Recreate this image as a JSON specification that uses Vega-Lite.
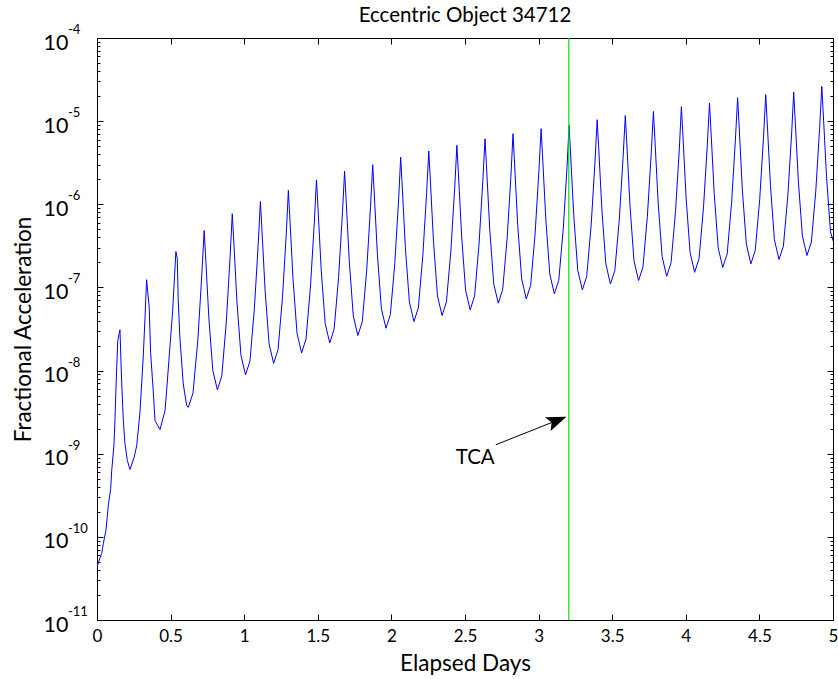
{
  "$schema": "https://vega.github.io/schema/vega-lite/v6.json",
  "width": 736,
  "height": 582,
  "autosize": {"type": "none"},
  "padding": {"left": 97, "top": 38, "right": 5, "bottom": 59},
  "background": "white",
  "config": {
    "view": {"stroke": "black", "strokeWidth": 1},
    "font": "Lato",
    "axis": {"domain": false, "grid": false, "labelColor": "black", "titleColor": "black", "labelFont": "Lato", "titleFont": "Lato", "titleFontWeight": "normal"}
  },
  "title": {"text": "Eccentric Object 34712", "fontSize": 20.5, "fontWeight": "normal", "font": "Lato", "color": "black", "offset": -2},
  "datasets": {
    "curve": [
      {"d":0.000,"a":4.27e-11},{"d":0.009,"a":4.90e-11},{"d":0.032,"a":6.31e-11},{"d":0.043,"a":8.32e-11},{"d":0.061,"a":1.20e-10},{"d":0.077,"a":2.40e-10},{"d":0.093,"a":3.80e-10},{"d":0.100,"a":6.31e-10},{"d":0.115,"a":1.26e-9},{"d":0.122,"a":2.51e-9},{"d":0.129,"a":6.31e-9},{"d":0.141,"a":2.29e-8},{"d":0.156,"a":3.09e-8},{"d":0.168,"a":6.92e-9},{"d":0.179,"a":2.51e-9},{"d":0.190,"a":1.32e-9},{"d":0.206,"a":8.32e-10},{"d":0.224,"a":6.46e-10},{"d":0.253,"a":9.12e-10},{"d":0.270,"a":1.26e-9},{"d":0.292,"a":3.16e-9},{"d":0.314,"a":1.45e-8},{"d":0.326,"a":4.27e-8},{"d":0.337,"a":1.24e-7},{"d":0.355,"a":5.62e-8},{"d":0.364,"a":1.66e-8},{"d":0.382,"a":5.75e-9},{"d":0.394,"a":2.51e-9},{"d":0.428,"a":1.95e-9},{"d":0.462,"a":3.31e-9},{"d":0.473,"a":5.75e-9},{"d":0.496,"a":2.00e-8},{"d":0.514,"a":5.25e-8},{"d":0.536,"a":2.70e-7},{"d":0.545,"a":2.24e-7},{"d":0.552,"a":6.92e-8},{"d":0.563,"a":2.51e-8},{"d":0.586,"a":6.92e-9},{"d":0.609,"a":3.80e-9},{"d":0.620,"a":3.61e-9},
      {"d":0.652,"a":5.35e-9},{"d":0.685,"a":2.32e-8},{"d":0.712,"a":1.42e-7},{"d":0.728,"a":4.84e-7},{"d":0.737,"a":2.49e-7},{"d":0.760,"a":4.28e-8},{"d":0.787,"a":9.95e-9},{"d":0.818,"a":5.86e-9},
      {"d":0.848,"a":8.65e-9},{"d":0.878,"a":3.74e-8},{"d":0.904,"a":2.28e-7},{"d":0.919,"a":7.69e-7},{"d":0.928,"a":3.94e-7},{"d":0.951,"a":6.61e-8},{"d":0.978,"a":1.52e-8},{"d":1.009,"a":8.87e-9},
      {"d":1.039,"a":1.30e-8},{"d":1.069,"a":5.51e-8},{"d":1.095,"a":3.26e-7},{"d":1.110,"a":1.08e-6},{"d":1.119,"a":5.52e-7},{"d":1.142,"a":9.20e-8},{"d":1.169,"a":2.10e-8},{"d":1.200,"a":1.22e-8},
      {"d":1.230,"a":1.79e-8},{"d":1.260,"a":7.55e-8},{"d":1.286,"a":4.44e-7},{"d":1.300,"a":1.47e-6},{"d":1.309,"a":7.46e-7},{"d":1.332,"a":1.24e-7},{"d":1.359,"a":2.80e-8},{"d":1.390,"a":1.63e-8},
      {"d":1.420,"a":2.40e-8},{"d":1.450,"a":1.01e-7},{"d":1.476,"a":5.96e-7},{"d":1.491,"a":1.97e-6},{"d":1.500,"a":1.00e-6},{"d":1.523,"a":1.64e-7},{"d":1.550,"a":3.70e-8},{"d":1.581,"a":2.15e-8},
      {"d":1.611,"a":3.15e-8},{"d":1.641,"a":1.31e-7},{"d":1.667,"a":7.62e-7},{"d":1.682,"a":2.50e-6},{"d":1.691,"a":1.26e-6},{"d":1.714,"a":2.05e-7},{"d":1.741,"a":4.55e-8},{"d":1.772,"a":2.64e-8},
      {"d":1.802,"a":3.85e-8},{"d":1.832,"a":1.59e-7},{"d":1.858,"a":9.16e-7},{"d":1.873,"a":2.99e-6},{"d":1.882,"a":1.51e-6},{"d":1.905,"a":2.48e-7},{"d":1.932,"a":5.56e-8},{"d":1.963,"a":3.23e-8},
      {"d":1.993,"a":4.72e-8},{"d":2.023,"a":1.95e-7},{"d":2.049,"a":1.13e-6},{"d":2.063,"a":3.69e-6},{"d":2.072,"a":1.86e-6},{"d":2.095,"a":3.02e-7},{"d":2.122,"a":6.71e-8},{"d":2.153,"a":3.89e-8},
      {"d":2.183,"a":5.68e-8},{"d":2.213,"a":2.34e-7},{"d":2.239,"a":1.34e-6},{"d":2.254,"a":4.36e-6},{"d":2.263,"a":2.20e-6},{"d":2.286,"a":3.56e-7},{"d":2.313,"a":7.93e-8},{"d":2.344,"a":4.59e-8},
      {"d":2.374,"a":6.70e-8},{"d":2.404,"a":2.75e-7},{"d":2.430,"a":1.57e-6},{"d":2.445,"a":5.11e-6},{"d":2.454,"a":2.58e-6},{"d":2.477,"a":4.17e-7},{"d":2.504,"a":9.27e-8},{"d":2.535,"a":5.37e-8},
      {"d":2.565,"a":7.85e-8},{"d":2.595,"a":3.25e-7},{"d":2.621,"a":1.88e-6},{"d":2.636,"a":6.14e-6},{"d":2.645,"a":3.10e-6},{"d":2.668,"a":5.01e-7},{"d":2.695,"a":1.11e-7},{"d":2.726,"a":6.46e-8},
      {"d":2.756,"a":9.40e-8},{"d":2.786,"a":3.84e-7},{"d":2.812,"a":2.18e-6},{"d":2.826,"a":7.05e-6},{"d":2.835,"a":3.55e-6},{"d":2.858,"a":5.70e-7},{"d":2.885,"a":1.26e-7},{"d":2.916,"a":7.29e-8},
      {"d":2.946,"a":1.06e-7},{"d":2.976,"a":4.37e-7},{"d":3.002,"a":2.50e-6},{"d":3.017,"a":8.11e-6},{"d":3.026,"a":4.08e-6},{"d":3.049,"a":6.56e-7},{"d":3.076,"a":1.45e-7},{"d":3.107,"a":8.37e-8},
      {"d":3.137,"a":1.22e-7},{"d":3.167,"a":4.93e-7},{"d":3.193,"a":2.77e-6},{"d":3.207,"a":8.87e-6},{"d":3.216,"a":4.48e-6},{"d":3.239,"a":7.26e-7},{"d":3.266,"a":1.61e-7},{"d":3.297,"a":9.35e-8},
      {"d":3.327,"a":1.36e-7},{"d":3.357,"a":5.60e-7},{"d":3.383,"a":3.21e-6},{"d":3.398,"a":1.04e-5},{"d":3.407,"a":5.26e-6},{"d":3.430,"a":8.53e-7},{"d":3.457,"a":1.91e-7},{"d":3.488,"a":1.10e-7},
      {"d":3.518,"a":1.60e-7},{"d":3.548,"a":6.50e-7},{"d":3.574,"a":3.66e-6},{"d":3.589,"a":1.17e-5},{"d":3.598,"a":5.90e-6},{"d":3.621,"a":9.48e-7},{"d":3.648,"a":2.09e-7},{"d":3.679,"a":1.21e-7},
      {"d":3.709,"a":1.76e-7},{"d":3.739,"a":7.18e-7},{"d":3.765,"a":4.06e-6},{"d":3.780,"a":1.31e-5},{"d":3.789,"a":6.61e-6},{"d":3.812,"a":1.06e-6},{"d":3.839,"a":2.36e-7},{"d":3.870,"a":1.36e-7},
      {"d":3.900,"a":1.99e-7},{"d":3.930,"a":8.11e-7},{"d":3.956,"a":4.61e-6},{"d":3.970,"a":1.49e-5},{"d":3.979,"a":7.48e-6},{"d":4.002,"a":1.20e-6},{"d":4.029,"a":2.64e-7},{"d":4.060,"a":1.52e-7},
      {"d":4.090,"a":2.22e-7},{"d":4.120,"a":9.04e-7},{"d":4.146,"a":5.12e-6},{"d":4.161,"a":1.65e-5},{"d":4.170,"a":8.32e-6},{"d":4.193,"a":1.35e-6},{"d":4.220,"a":3.00e-7},{"d":4.251,"a":1.74e-7},
      {"d":4.281,"a":2.53e-7},{"d":4.311,"a":1.04e-6},{"d":4.337,"a":5.92e-6},{"d":4.352,"a":1.91e-5},{"d":4.361,"a":9.59e-6},{"d":4.384,"a":1.52e-6},{"d":4.411,"a":3.34e-7},{"d":4.442,"a":1.92e-7},
      {"d":4.472,"a":2.80e-7},{"d":4.502,"a":1.14e-6},{"d":4.528,"a":6.46e-6},{"d":4.543,"a":2.08e-5},{"d":4.552,"a":1.05e-5},{"d":4.575,"a":1.69e-6},{"d":4.602,"a":3.75e-7},{"d":4.633,"a":2.17e-7},
      {"d":4.663,"a":3.14e-7},{"d":4.693,"a":1.26e-6},{"d":4.719,"a":7.01e-6},{"d":4.733,"a":2.23e-5},{"d":4.742,"a":1.13e-5},{"d":4.765,"a":1.85e-6},{"d":4.792,"a":4.17e-7},{"d":4.823,"a":2.42e-7},
      {"d":4.853,"a":3.52e-7},{"d":4.883,"a":1.44e-6},{"d":4.909,"a":8.13e-6},{"d":4.924,"a":2.62e-5},{"d":4.933,"a":1.32e-5},{"d":4.956,"a":2.14e-6},{"d":4.983,"a":4.68e-7},{"d":5.000,"a":3.63e-7}
    ],
    "decades": [
      {"v":1e-4,"e":"-4"},{"v":1e-5,"e":"-5"},{"v":1e-6,"e":"-6"},{"v":1e-7,"e":"-7"},{"v":1e-8,"e":"-8"},{"v":1e-9,"e":"-9"},{"v":1e-10,"e":"-10"},{"v":1e-11,"e":"-11"}
    ],
    "tca": [{"t":3.205}],
    "arrow": [{"x1":2.709,"y1":1.28e-9,"x2":3.18,"y2":2.75e-9,"tx":3.189,"ty":2.79e-9,"lx":2.702,"ly":8.97e-10,"label":"TCA"}]
  },
  "layer": [
    {
      "data": {"name": "curve"},
      "mark": {"type": "line", "color": "#0000ff", "strokeWidth": 1, "strokeJoin": "round", "clip": true},
      "encoding": {
        "x": {"field": "d", "type": "quantitative", "scale": {"domain": [0, 5], "nice": false, "zero": false},
          "axis": {"orient": "bottom", "offset": -6, "values": [0,0.5,1,1.5,2,2.5,3,3.5,4,4.5,5], "labelExpr": "toString(datum.value)", "tickColor": "black", "tickWidth": 1, "tickSize": 6, "labelPadding": 8, "labelFontSize": 17, "labelFlush": false, "title": "Elapsed Days", "titleFontSize": 22.5, "titlePadding": 8}},
        "y": {"field": "a", "type": "quantitative", "scale": {"type": "log", "domain": [1e-11, 1e-4], "nice": false},
          "axis": {"orient": "left", "offset": -6, "values": [1e-11,1e-10,1e-9,1e-8,1e-7,1e-6,1e-5,1e-4], "labelExpr": "'10'", "tickColor": "black", "tickWidth": 1, "tickSize": 6, "labelPadding": 29, "labelOffset": 5, "labelFontSize": 21.5, "labelFlush": false, "labelOverlap": false, "labelBaseline": "middle", "title": "Fractional Acceleration", "titleFontSize": 22.5, "titlePadding": 8}}
      }
    },
    {
      "data": {"name": "tca"},
      "mark": {"type": "rule", "color": "#00e600", "strokeWidth": 1.2},
      "encoding": {
        "x": {"field": "t", "type": "quantitative", "scale": {"domain": [0, 5], "nice": false, "zero": false},
          "axis": {"orient": "top", "offset": -6, "values": [0,0.5,1,1.5,2,2.5,3,3.5,4,4.5,5], "tickColor": "black", "tickWidth": 1, "tickSize": 6, "labels": false, "title": null}}
      }
    },
    {
      "data": {"name": "decades"},
      "mark": {"type": "text", "align": "left", "baseline": "middle", "dx": -29, "dy": -8, "fontSize": 13, "font": "Lato", "color": "black"},
      "encoding": {
        "x": {"datum": 0, "type": "quantitative", "scale": {"domain": [0, 5], "nice": false, "zero": false}, "axis": null},
        "y": {"field": "v", "type": "quantitative", "scale": {"type": "log", "domain": [1e-11, 1e-4], "nice": false},
          "axis": {"orient": "left", "offset": -3, "values": [2e-11,3e-11,4e-11,5e-11,6e-11,7e-11,8e-11,9e-11,2e-10,3e-10,4e-10,5e-10,6e-10,7e-10,8e-10,9e-10,2e-9,3e-9,4e-9,5e-9,6e-9,7e-9,8e-9,9e-9,2e-8,3e-8,4e-8,5e-8,6e-8,7e-8,8e-8,9e-8,2e-7,3e-7,4e-7,5e-7,6e-7,7e-7,8e-7,9e-7,2e-6,3e-6,4e-6,5e-6,6e-6,7e-6,8e-6,9e-6,2e-5,3e-5,4e-5,5e-5,6e-5,7e-5,8e-5,9e-5], "tickColor": "black", "tickWidth": 1, "tickSize": 3, "labels": false, "title": null}},
        "text": {"field": "e"}
      }
    },
    {
      "data": {"name": "decades"},
      "mark": {"type": "point", "opacity": 0},
      "encoding": {
        "y": {"field": "v", "type": "quantitative", "scale": {"type": "log", "domain": [1e-11, 1e-4], "nice": false},
          "axis": {"orient": "right", "offset": -6, "values": [1e-11,1e-10,1e-9,1e-8,1e-7,1e-6,1e-5,1e-4], "tickColor": "black", "tickWidth": 1, "tickSize": 6, "labels": false, "title": null}}
      }
    },
    {
      "data": {"name": "decades"},
      "mark": {"type": "point", "opacity": 0},
      "encoding": {
        "y": {"field": "v", "type": "quantitative", "scale": {"type": "log", "domain": [1e-11, 1e-4], "nice": false},
          "axis": {"orient": "right", "offset": -3, "values": [2e-11,3e-11,4e-11,5e-11,6e-11,7e-11,8e-11,9e-11,2e-10,3e-10,4e-10,5e-10,6e-10,7e-10,8e-10,9e-10,2e-9,3e-9,4e-9,5e-9,6e-9,7e-9,8e-9,9e-9,2e-8,3e-8,4e-8,5e-8,6e-8,7e-8,8e-8,9e-8,2e-7,3e-7,4e-7,5e-7,6e-7,7e-7,8e-7,9e-7,2e-6,3e-6,4e-6,5e-6,6e-6,7e-6,8e-6,9e-6,2e-5,3e-5,4e-5,5e-5,6e-5,7e-5,8e-5,9e-5], "tickColor": "black", "tickWidth": 1, "tickSize": 3, "labels": false, "title": null}}
      }
    },
    {
      "data": {"name": "arrow"},
      "mark": {"type": "rule", "color": "black", "strokeWidth": 1},
      "encoding": {
        "x": {"field": "x1", "type": "quantitative", "scale": {"domain": [0, 5], "nice": false, "zero": false}, "axis": null},
        "y": {"field": "y1", "type": "quantitative", "scale": {"type": "log", "domain": [1e-11, 1e-4], "nice": false}, "axis": null},
        "x2": {"field": "x2"},
        "y2": {"field": "y2"}
      }
    },
    {
      "data": {"name": "arrow"},
      "mark": {"type": "point", "shape": "M0,0L-2,-0.75L-1.6,0L-2,0.75Z", "size": 400, "angle": 338.2, "filled": true, "color": "black", "opacity": 1, "strokeWidth": 0},
      "encoding": {
        "x": {"field": "tx", "type": "quantitative", "scale": {"domain": [0, 5], "nice": false, "zero": false}, "axis": null},
        "y": {"field": "ty", "type": "quantitative", "scale": {"type": "log", "domain": [1e-11, 1e-4], "nice": false}, "axis": null}
      }
    },
    {
      "data": {"name": "arrow"},
      "mark": {"type": "text", "align": "right", "baseline": "middle", "fontSize": 20.5, "font": "Lato", "color": "black"},
      "encoding": {
        "x": {"field": "lx", "type": "quantitative", "scale": {"domain": [0, 5], "nice": false, "zero": false}, "axis": null},
        "y": {"field": "ly", "type": "quantitative", "scale": {"type": "log", "domain": [1e-11, 1e-4], "nice": false}, "axis": null},
        "text": {"field": "label"}
      }
    }
  ],
  "resolve": {"axis": {"x": "independent", "y": "independent"}}
}
